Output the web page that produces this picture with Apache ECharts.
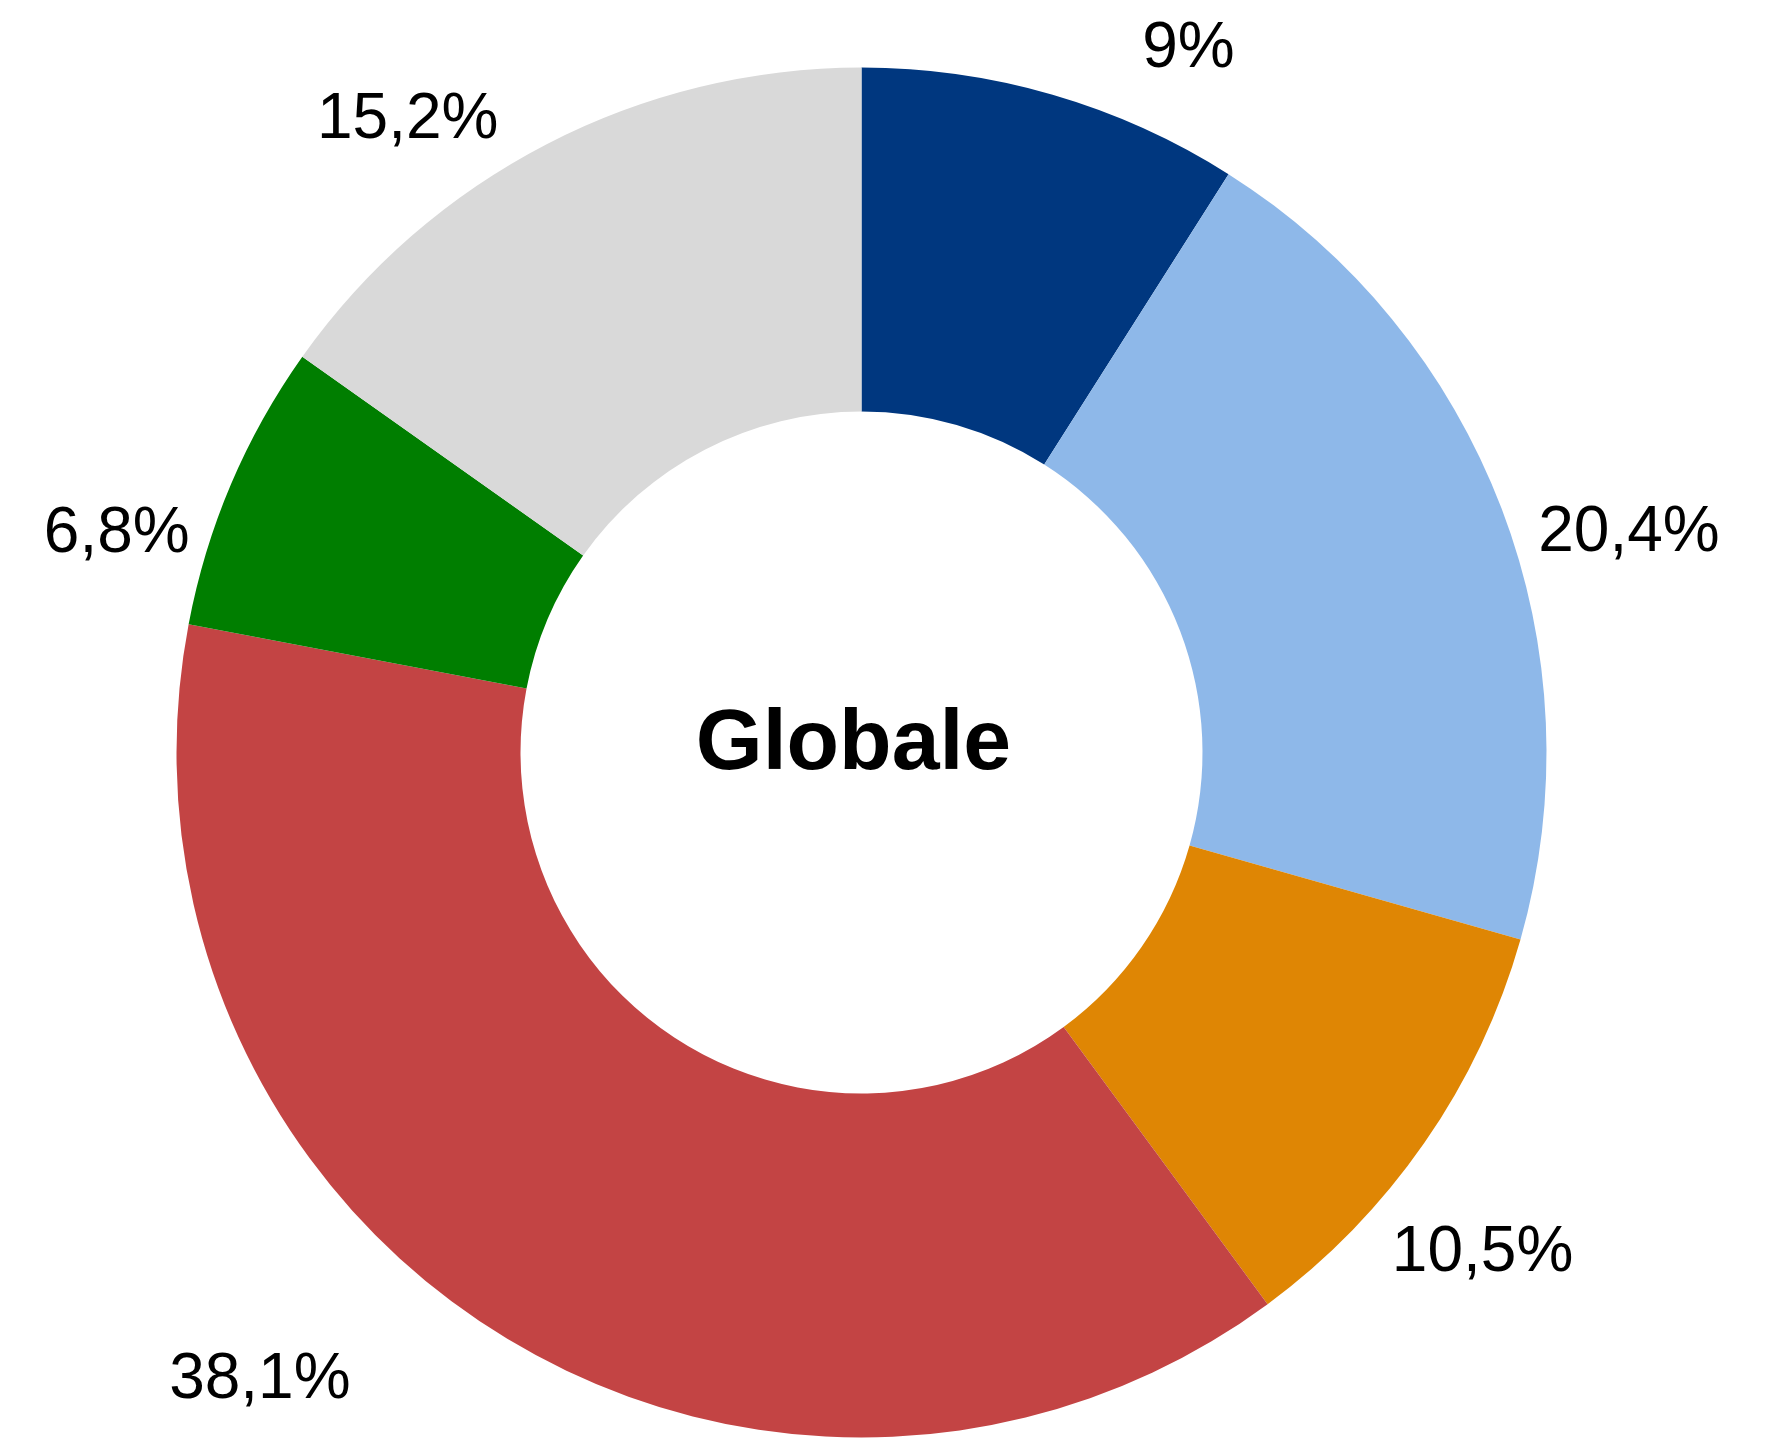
<!DOCTYPE html>
<html>
<head>
<meta charset="utf-8">
<script src="https://cdn.jsdelivr.net/npm/echarts@6/dist/echarts.min.js"></script>
<style>
html,body{margin:0;padding:0;background:#fff;}
#chart{width:1779px;height:1438px;}
</style>
</head>
<body>
<div id="chart"></div>
<script>
// Data
var categories = ['A', 'B', 'C', 'D', 'E', 'F'];
var values = [9, 20.4, 10.5, 38.1, 6.8, 15.2];
var colors = ['#00377f', '#8eb8e9', '#df8604', '#c34444', '#007e00', '#d9d9d9'];
var centerTitle = 'Globale';
// Label nudges (px) relative to ECharts' default outside label placement
var labelNudgeX = [84, 18, -49, -135, -23, -39];
var labelNudgeY = [-26, 32, 99, 31, 58, -6];

function fmt(v) { return String(v).replace('.', ',') + '%'; }

var chart = echarts.init(document.getElementById('chart'), null, {renderer: 'canvas'});
var seriesData = categories.map(function (c, i) {
  return { name: c, value: values[i], itemStyle: { color: colors[i] } };
});

chart.setOption({
  animation: false,
  backgroundColor: '#ffffff',
  graphic: [{
    type: 'text',
    x: 853.5,
    y: 745,
    style: {
      text: centerTitle,
      fill: '#000',
      font: 'bold 86px "Liberation Sans", Arial, sans-serif',
      textAlign: 'center',
      textVerticalAlign: 'middle'
    }
  }],
  series: [{
    type: 'pie',
    center: [861.5, 752.5],
    radius: [341, 685],
    startAngle: 90,
    clockwise: true,
    avoidLabelOverlap: false,
    data: seriesData,
    itemStyle: { borderWidth: 0 },
    label: {
      show: true,
      position: 'outside',
      formatter: function (p) { return fmt(p.value); },
      color: '#000',
      fontFamily: '"Liberation Sans", Arial, sans-serif',
      fontSize: 64,
      distanceToLabelLine: 0
    },
    labelLine: { show: false, length: 20, length2: 0 },
    labelLayout: function (p) {
      return { dx: labelNudgeX[p.dataIndex], dy: labelNudgeY[p.dataIndex] };
    },
    emphasis: { disabled: true }
  }]
});
</script>
</body>
</html>
